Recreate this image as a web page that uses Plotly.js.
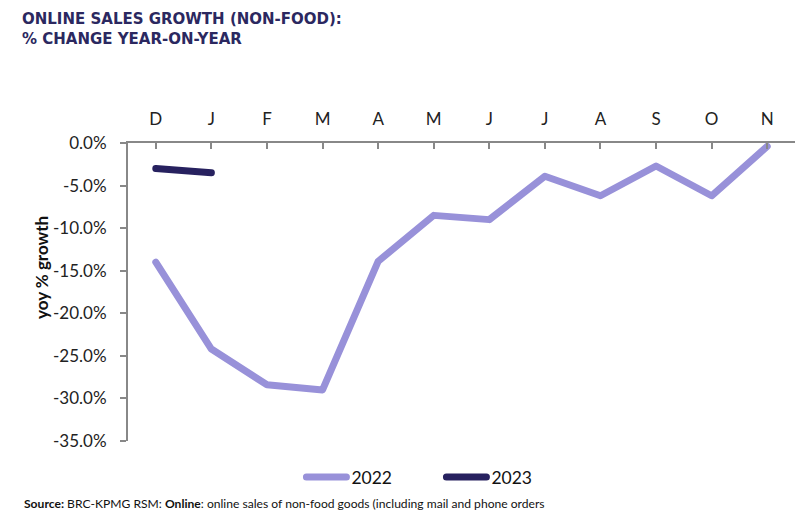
<!DOCTYPE html>
<html>
<head>
<meta charset="utf-8">
<script src="https://cdn.plot.ly/plotly-3.0.1.min.js"></script>
<style>
html,body{margin:0;padding:0;background:#fff;}
#chart{width:795px;height:530px;}
.scatterlayer .js-line, .legendlines path{stroke-linecap:round !important;stroke-linejoin:round !important;}
</style>
</head>
<body>
<div id="chart"></div>
<script>
const months = ["D","J","F","M","A","M","J","J","A","S","O","N"];
const series2022 = [-14.0, -24.2, -28.4, -29.0, -13.9, -8.5, -9.0, -3.9, -6.2, -2.7, -6.2, -0.4];
const series2023 = [-3.0, -3.5];
const yTickVals = [0, -5, -10, -15, -20, -25, -30, -35];
const yTickText = ["0.0%", "-5.0%", "-10.0%", "-15.0%", "-20.0%", "-25.0%", "-30.0%", "-35.0%"];

const xIdx = months.map((m, i) => i);

const traces = [
  {x: xIdx, y: series2022, type: 'scatter', mode: 'lines', name: '2022',
   line: {color: '#9891d9', width: 7}},
  {x: xIdx.slice(0, series2023.length), y: series2023, type: 'scatter', mode: 'lines', name: '2023',
   line: {color: '#27215f', width: 7}}
];

const layout = {
  width: 795, height: 530,
  margin: {l: 128, r: 0, t: 143, b: 89},
  paper_bgcolor: '#fff', plot_bgcolor: '#fff',
  font: {family: 'Lato, sans-serif', color: '#222'},
  showlegend: true,
  legend: {orientation: 'h', x: 0.26, xanchor: 'left', y: -0.09, yanchor: 'middle',
           font: {size: 17.5, color: '#111'}, itemwidth: 40, entrywidth: 85, tracegroupgap: 0},
  xaxis: {
    side: 'top', range: [-0.5, 11.5], tickmode: 'array', tickvals: xIdx, ticktext: months,
    tickson: 'boundaries', ticks: 'inside', ticklen: 6, tickcolor: '#888', tickwidth: 2,
    showline: true, linecolor: '#888', linewidth: 2, showgrid: false, zeroline: false,
    tickfont: {size: 17, color: '#222'}, ticklabelstandoff: 9, fixedrange: true
  },
  yaxis: {
    range: [-35, 0], tickmode: 'array', tickvals: yTickVals, ticktext: yTickText,
    ticks: 'outside', ticklen: 6, tickcolor: '#888', tickwidth: 2,
    showline: true, linecolor: '#888', linewidth: 2, showgrid: false, zeroline: false,
    tickfont: {size: 17, color: '#222'}, ticklabelstandoff: 10, fixedrange: true
  },
  annotations: [
    {xref: 'paper', yref: 'paper', x: 0, y: 1, xanchor: 'left', yanchor: 'top', showarrow: false,
     text: 'ONLINE SALES GROWTH (NON-FOOD):<br>% CHANGE YEAR-ON-YEAR', align: 'left',
     font: {family: 'DejaVu Sans, sans-serif', size: 15, color: '#2b2860', weight: 'bold'}},
    {xref: 'paper', yref: 'paper', x: 42, y: 0, xanchor: 'center', yanchor: 'middle', showarrow: false, textangle: -90,
     text: '<b>yoy % growth</b>', font: {size: 17, color: '#111'}},
    {xref: 'paper', yref: 'paper', x: 22, y: 0, xanchor: 'left', yanchor: 'middle', showarrow: false,
     text: '<b>Source:</b> BRC-KPMG RSM: <b>Online</b>: online sales of non-food goods (including mail and phone orders',
     font: {size: 12.1, color: '#111'}}
  ]
};

const pw = 795 - 128 - 0, ph = 530 - 143 - 89;
function px2x(px) { return (px - 128) / pw; }
function py2y(py) { return (530 - 89 - py) / ph; }
layout.annotations[0].x = px2x(20); layout.annotations[0].y = py2y(8);
layout.annotations[1].x = px2x(41); layout.annotations[1].y = py2y(268);
layout.annotations[2].x = px2x(22); layout.annotations[2].y = py2y(503);
layout.legend.y = py2y(477);

Plotly.newPlot('chart', traces, layout, {displayModeBar: false, staticPlot: true});
</script>
</body>
</html>
